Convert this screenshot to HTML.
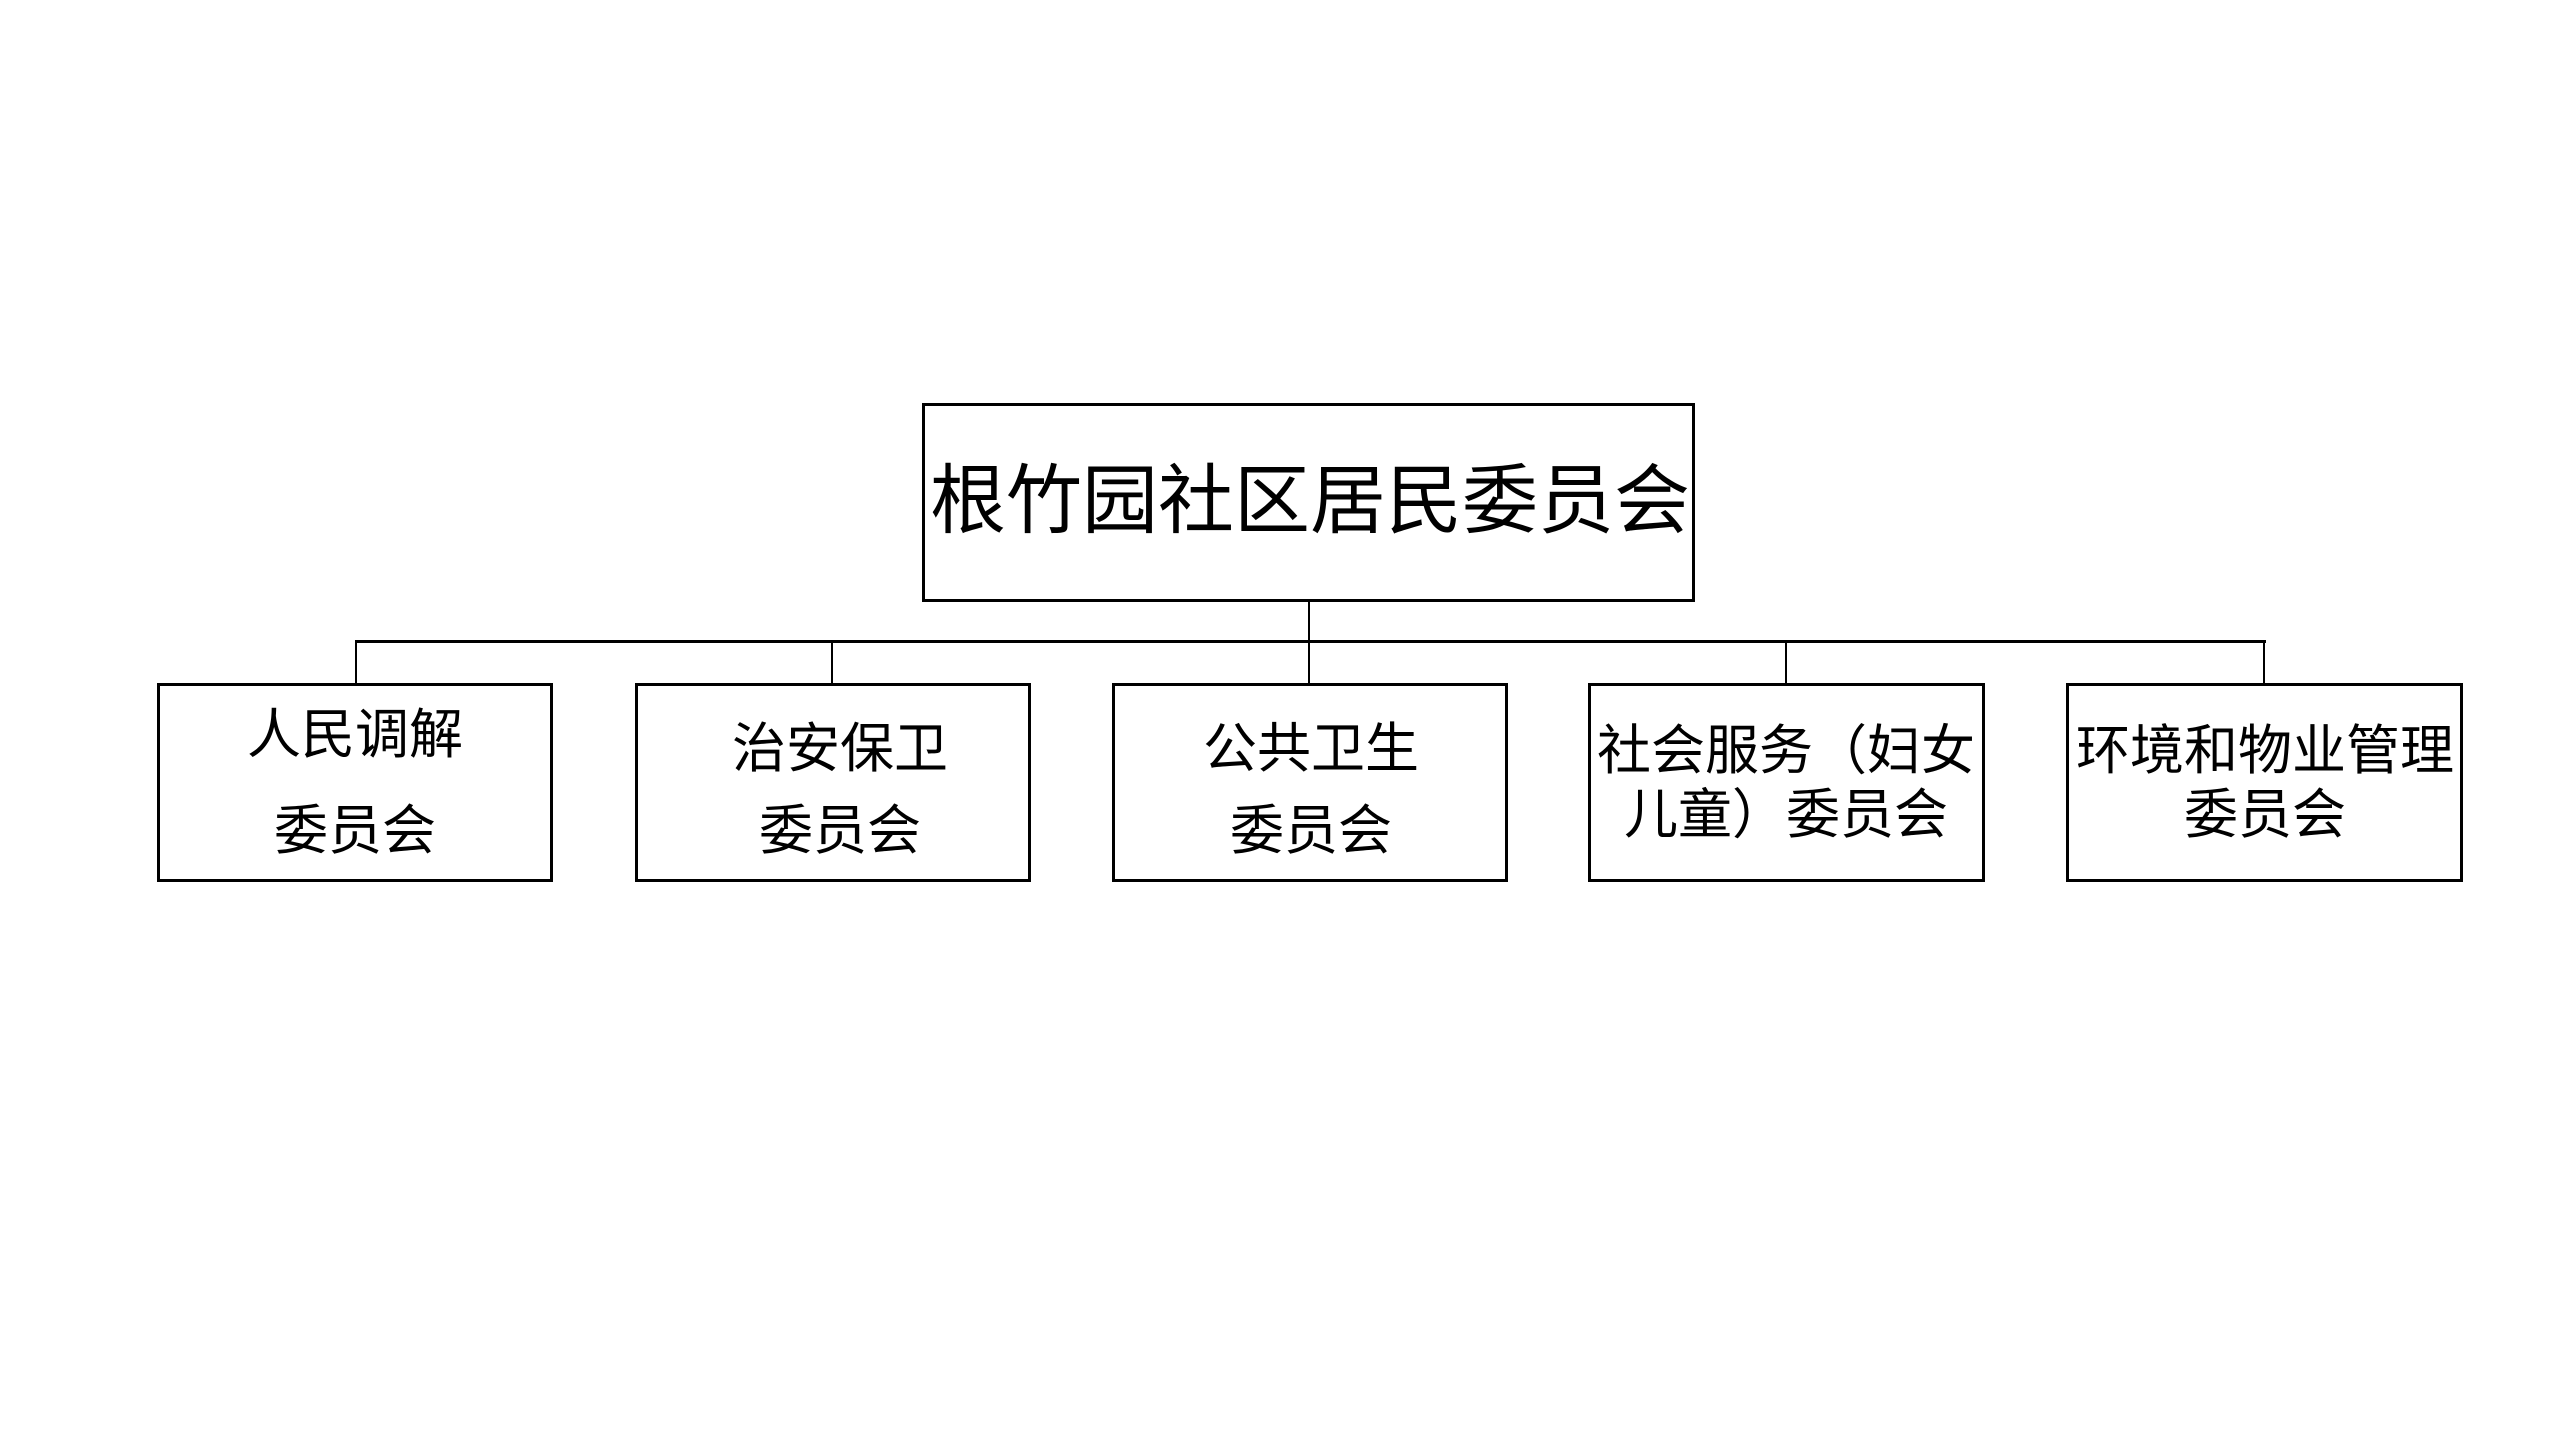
<!DOCTYPE html>
<html><head><meta charset="utf-8"><style>
body{margin:0;width:2560px;height:1440px;background:#fff;position:relative;overflow:hidden;font-family:"Liberation Sans","Noto Sans CJK SC",sans-serif;color:#000}
.b{position:absolute;border:3px solid #000;box-sizing:border-box;background:#fff}
.l{position:absolute;background:#000}
.t{position:absolute;white-space:nowrap;text-align:center;transform:translate(-50%,-50%);line-height:1}
</style></head><body>
<div class="b" style="left:922px;top:403px;width:773px;height:199px"></div>
<div class="t" style="left:1310px;top:502px;font-size:76px">根竹园社区居民委员会</div>

<div class="l" style="left:1308px;top:601px;width:2px;height:41px"></div>
<div class="l" style="left:355px;top:640px;width:1911px;height:3px"></div>
<div class="l" style="left:355px;top:641px;width:2px;height:43px"></div>
<div class="l" style="left:831px;top:641px;width:2px;height:43px"></div>
<div class="l" style="left:1308px;top:641px;width:2px;height:43px"></div>
<div class="l" style="left:1785px;top:641px;width:2px;height:43px"></div>
<div class="l" style="left:2263px;top:641px;width:2px;height:43px"></div>

<div class="b" style="left:157px;top:683px;width:396px;height:199px"></div>
<div class="b" style="left:635px;top:683px;width:396px;height:199px"></div>
<div class="b" style="left:1112px;top:683px;width:396px;height:199px"></div>
<div class="b" style="left:1588px;top:683px;width:397px;height:199px"></div>
<div class="b" style="left:2066px;top:683px;width:397px;height:199px"></div>

<div class="t" style="left:355px;top:735px;font-size:54px">人民调解</div>
<div class="t" style="left:355px;top:831px;font-size:54px">委员会</div>
<div class="t" style="left:840px;top:749px;font-size:54px">治安保卫</div>
<div class="t" style="left:840px;top:831px;font-size:54px">委员会</div>
<div class="t" style="left:1311px;top:749px;font-size:54px">公共卫生</div>
<div class="t" style="left:1311px;top:831px;font-size:54px">委员会</div>
<div class="t" style="left:1786px;top:751px;font-size:54px">社会服务（妇女</div>
<div class="t" style="left:1786px;top:815px;font-size:54px">儿童）委员会</div>
<div class="t" style="left:2265px;top:751px;font-size:54px">环境和物业管理</div>
<div class="t" style="left:2265px;top:815px;font-size:54px">委员会</div>
</body></html>
